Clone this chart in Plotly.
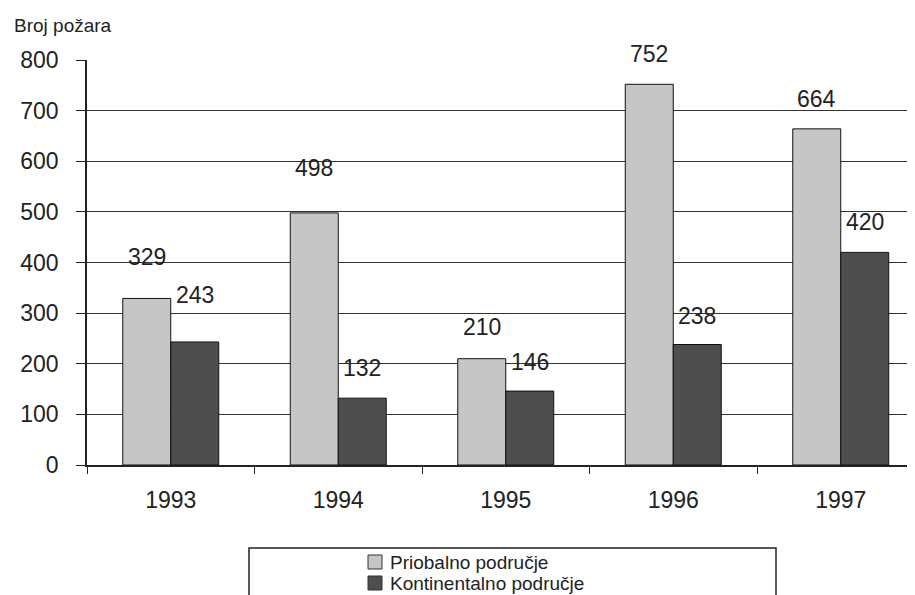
import plotly.graph_objects as go

years = ["1993", "1994", "1995", "1996", "1997"]
priobalno = [329, 498, 210, 752, 664]
kontinentalno = [243, 132, 146, 238, 420]
series_names = ["Priobalno područje", "Kontinentalno područje"]
y_ticks = [0, 100, 200, 300, 400, 500, 600, 700, 800]

# pixel lift of each value label above its bar top (label placement, not data)
lift_prio = [41, 45, 32, 30, 30]
lift_kont = [47, 30, 29, 29, 30]

FONT = "Liberation Sans, Arial, sans-serif"
TXT = "#222"
BARGAP = 0.427
light = "#c6c6c6"
dark = "#4e4e4e"
colors = [light, dark]

# page has an 8px body margin; figure is placed at (8, 8)
OFF = 8
W, H = 915 - OFF, 595 - OFF
L, R, T, B = 87 - OFF, 0, 60 - OFF, 595 - 465
pw, ph = W - L - R, H - T - B

def px_x(x):  # page pixel -> paper
    return (x - OFF - L) / pw

def px_y(y):
    return (H - B - (y - OFF)) / ph

fig = go.Figure()
for name, vals, col in zip(series_names, [priobalno, kontinentalno], colors):
    fig.add_trace(go.Bar(x=years, y=vals, name=name, showlegend=False,
                         marker=dict(color=col, line=dict(color="#111", width=1))))

off = (1 - BARGAP) / 4
ann = []
for i in range(len(years)):
    ann.append(dict(x=i - off, y=priobalno[i], xref="x", yref="y", text=str(priobalno[i]),
                    showarrow=False, yshift=lift_prio[i], yanchor="middle",
                    font=dict(family=FONT, size=23, color=TXT)))
    ann.append(dict(x=i + off, y=kontinentalno[i], xref="x", yref="y", text=str(kontinentalno[i]),
                    showarrow=False, yshift=lift_kont[i], yanchor="middle",
                    font=dict(family=FONT, size=23, color=TXT)))
ann.append(dict(x=px_x(12), y=px_y(25), xref="paper", yref="paper", text="Broj požara",
                showarrow=False, xanchor="left", yanchor="middle",
                font=dict(family=FONT, size=19, color=TXT)))

# legend (drawn as a boxed key below the chart)
shapes = [dict(type="rect", xref="paper", yref="paper",
               x0=px_x(249), x1=px_x(776), y0=px_y(548), y1=px_y(620),
               line=dict(color="#222", width=1.5), fillcolor="rgba(0,0,0,0)")]
leg_y = [562, 583]
for name, col, yc in zip(series_names, colors, leg_y):
    shapes.append(dict(type="rect", xref="paper", yref="paper",
                       x0=px_x(368), x1=px_x(382), y0=px_y(yc - 7), y1=px_y(yc + 7),
                       line=dict(color="#333", width=1), fillcolor=col))
    ann.append(dict(x=px_x(388), y=px_y(yc), xref="paper", yref="paper", text=name,
                    showarrow=False, xanchor="left", yanchor="middle",
                    font=dict(family=FONT, size=19, color=TXT)))

fig.update_layout(
    width=W, height=H,
    margin=dict(l=L, r=R, t=T, b=B, autoexpand=False),
    paper_bgcolor="white", plot_bgcolor="white",
    barmode="group", bargap=BARGAP, bargroupgap=0,
    font=dict(family=FONT, size=23, color=TXT),
    annotations=ann, shapes=shapes,
    showlegend=False,
)
fig.update_xaxes(type="category", range=[-0.5, -0.5 + pw / 167.5],
                 showline=True, linecolor="#222", linewidth=1.5,
                 ticks="outside", tickson="boundaries", ticklen=7, tickcolor="#222",
                 ticklabelstandoff=14, showgrid=False,
                 tickfont=dict(family=FONT, size=23, color=TXT))
fig.update_yaxes(range=[0, 800], tickvals=y_ticks, showline=True, linecolor="#222", linewidth=1.5,
                 ticks="outside", ticklen=9, tickcolor="#222", ticklabelstandoff=13,
                 showgrid=True, gridcolor="#333", gridwidth=1.2, zeroline=False,
                 tickfont=dict(family=FONT, size=23, color=TXT))

fig.write_html("out.html")
